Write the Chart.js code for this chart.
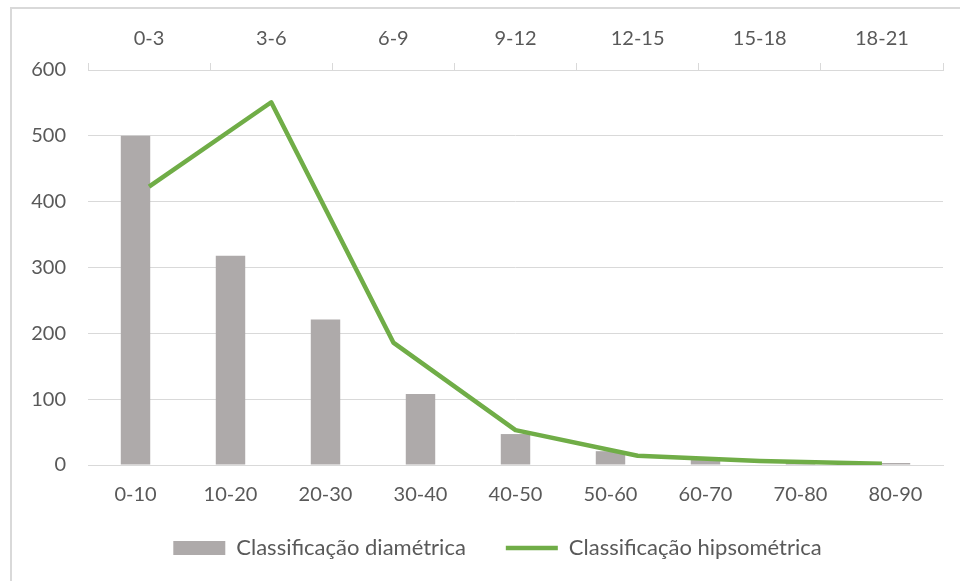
<!DOCTYPE html>
<html lang="pt">
<head>
    <meta charset="UTF-8">
    <title>Classificação diamétrica e hipsométrica</title>
    <script src="https://cdn.jsdelivr.net/npm/chart.js"></script>
    <style>
        body { margin: 0; background: #fff; }
        #frame { position: absolute; left: 10px; top: 7px; width: 960px; height: 600px;
                 border-left: 2px solid #d9d9d9; border-top: 2px solid #d9d9d9; }
        #wrap { position: absolute; left: 0; top: 0; width: 960px; height: 581px; }
    </style>
</head>
<body>
    <div id="frame"></div>
    <div id="wrap"><canvas id="chart"></canvas></div>

    <script>
        // classes de diâmetro (eixo inferior) e de altura (eixo superior)
        const diamClasses = ['0-10', '10-20', '20-30', '30-40', '40-50', '50-60', '60-70', '70-80', '80-90'];
        const diamValues = [500, 318, 221, 108, 47, 21, 10, 3, 3];

        const heightClasses = ['0-3', '3-6', '6-9', '9-12', '12-15', '15-18', '18-21'];
        const heightValues = [423, 551, 186, 53, 14, 6, 2];

        const yTicks = [0, 100, 200, 300, 400, 500, 600];

        const grey = '#d9d9d9';
        const textColor = '#595959';
        Chart.defaults.font.family = 'Lato, sans-serif';
        Chart.defaults.font.size = 20;
        Chart.defaults.color = textColor;

        // ajusta a área dos rótulos do eixo x e centra a legenda sob o gráfico
        const tweakLayout = {
            id: 'tweakLayout',
            afterLayout(chart) {
                chart.scales.x.bottom += 30;
                chart.legend.left += 26;
                chart.legend.right += 26;
            }
        };

        new Chart(document.getElementById('chart'), {
            type: 'bar',
            data: {
                labels: diamClasses,
                datasets: [
                    {
                        label: 'Classificação diamétrica',
                        data: diamValues,
                        backgroundColor: '#aeaaaa',
                        borderWidth: 0,
                        barPercentage: 0.31,
                        categoryPercentage: 1,
                        grouped: false,
                        pointStyle: 'rect',
                        xAxisID: 'x',
                        order: 1
                    },
                    {
                        type: 'line',
                        label: 'Classificação hipsométrica',
                        data: heightValues,
                        borderColor: '#70ad47',
                        backgroundColor: '#70ad47',
                        borderWidth: 4.5,
                        borderJoinStyle: 'round',
                        pointRadius: 0,
                        pointStyle: 'line',
                        tension: 0,
                        xAxisID: 'x2',
                        order: 0
                    }
                ]
            },
            options: {
                responsive: true,
                maintainAspectRatio: false,
                animation: false,
                layout: { padding: { left: 0, right: 17, top: 0, bottom: 12 } },
                plugins: {
                    tooltip: { enabled: false },
                    legend: {
                        position: 'bottom',
                        labels: {
                            usePointStyle: true,
                            pointStyleWidth: 52,
                            boxHeight: 14,
                            padding: 40,
                            color: textColor,
                            font: { size: 22 },
                            sort: (a, b) => a.datasetIndex - b.datasetIndex
                        }
                    }
                },
                scales: {
                    x: {
                        position: 'bottom',
                        offset: true,
                        grid: { display: false },
                        border: { display: true, color: grey, width: 1 },
                        ticks: { padding: 10 },
                        afterFit: s => { s.height = 32; }
                    },
                    x2: {
                        type: 'category',
                        position: 'top',
                        labels: heightClasses,
                        offset: true,
                        grid: { offset: true, drawOnChartArea: false, tickLength: 7, color: grey },
                        border: { display: true, color: grey, width: 1 },
                        ticks: { padding: 12 },
                        afterFit: s => { s.height = 70; }
                    },
                    y: {
                        min: 0,
                        max: 600,
                        afterBuildTicks: s => { s.ticks = yTicks.map(v => ({ value: v })); },
                        grid: { color: grey, drawTicks: false },
                        border: { display: false },
                        ticks: { padding: 22 },
                        afterFit: s => { s.width = 88; }
                    }
                }
            },
            plugins: [tweakLayout]
        });
    </script>
</body>
</html>
